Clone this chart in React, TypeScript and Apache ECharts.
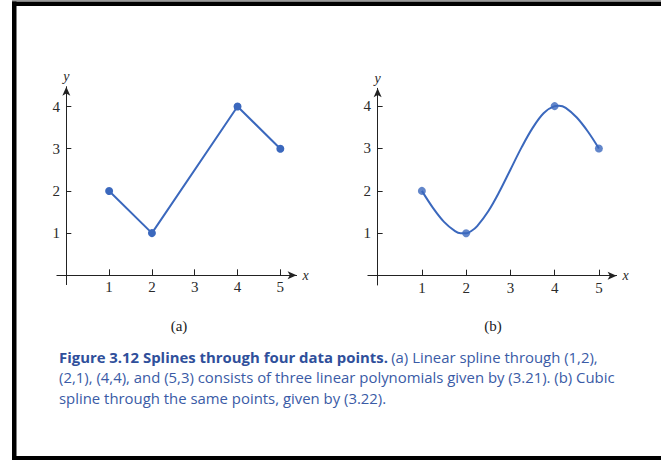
import React, { useEffect, useRef } from "react";
import * as echarts from "echarts";

// Knots shared by both panels
const knotX = [1, 2, 4, 5];
const knotY = [2, 1, 4, 3];

// Cubic spline curve in panel (b), sampled along x
const curveX = [1, 1.25, 1.5, 1.75, 1.875, 2, 2.125, 2.25, 2.5, 2.75, 3, 3.25, 3.5, 3.75, 4, 4.1, 4.25, 4.5, 4.75, 5];
const curveY = [2, 1.6, 1.27, 1.05, 1.0, 1, 1.06, 1.17, 1.52, 1.98, 2.5, 3.02, 3.48, 3.83, 4, 4.01, 3.96, 3.73, 3.4, 3];

// Tick labels
const xTicks = [1, 2, 3, 4, 5];
const yTicks = [1, 2, 3, 4];

const panelLabels = ["(a)", "(b)"];
const captionBold = "Figure 3.12 Splines through four data points.";
const captionLines = [
  "(a) Linear spline through (1,2),",
  "(2,1), (4,4), and (5,3) consists of three linear polynomials given by (3.21). (b) Cubic",
  "spline through the same points, given by (3.22).",
];

const SERIF = "Liberation Serif";
const SANS = "Open Sans";
const AXIS_COLOR = "#222";
const BLUE = "#3b68bd";
const CAPTION_BLUE = "#3a5ba6";

function xAxisFor(i: number, max: number) {
  return {
    type: "value",
    gridIndex: i,
    min: -0.22,
    max,
    splitLine: { show: false },
    axisLine: {
      onZero: true,
      symbol: ["none", "arrow"],
      symbolSize: [6, 9],
      lineStyle: { color: AXIS_COLOR, width: 1 },
    },
    axisTick: { inside: true, length: 6, customValues: xTicks, lineStyle: { color: AXIS_COLOR } },
    axisLabel: {
      customValues: xTicks,
      fontFamily: SERIF,
      fontSize: 15,
      color: "#2a2a2a",
      margin: -5,
    },
    name: "x",
    nameLocation: "end",
    nameGap: 6,
    nameTextStyle: { fontFamily: SERIF, fontStyle: "italic", fontSize: 14, color: "#2a2a2a" },
  };
}

function yAxisFor(i: number, max: number) {
  return {
    type: "value",
    gridIndex: i,
    min: -0.22,
    max,
    splitLine: { show: false },
    axisLine: {
      onZero: true,
      symbol: ["none", "arrow"],
      symbolSize: [6, 9],
      lineStyle: { color: AXIS_COLOR, width: 1 },
    },
    axisTick: { inside: true, length: 5, customValues: yTicks, lineStyle: { color: AXIS_COLOR } },
    axisLabel: {
      customValues: yTicks,
      fontFamily: SERIF,
      fontSize: 15,
      color: "#2a2a2a",
      margin: -3,
    },
    name: "y",
    nameLocation: "end",
    nameGap: 3,
    nameTextStyle: { fontFamily: SERIF, fontStyle: "italic", fontSize: 14, color: "#2a2a2a" },
  };
}

export default function App() {
  const ref = useRef<HTMLDivElement>(null);

  useEffect(() => {
    if (!ref.current) return;
    const chart = echarts.init(ref.current, null, { renderer: "svg" });
    const knots = knotX.map((x, i) => [x, knotY[i]]);
    const curve = curveX.map((x, i) => [x, curveY[i]]);

    chart.setOption({
      animation: false,
      backgroundColor: "#ffffff",
      grid: [
        { left: 56.9, top: 86.7, width: 239.7, height: 197.9 },
        { left: 367.9, top: 88.3, width: 248.7, height: 196.7 },
      ],
      xAxis: [xAxisFor(0, 5.38), xAxisFor(1, 5.4)],
      yAxis: [yAxisFor(0, 4.47), yAxisFor(1, 4.42)],
      series: [
        {
          type: "line",
          xAxisIndex: 0,
          yAxisIndex: 0,
          data: knots,
          symbol: "circle",
          symbolSize: 8,
          itemStyle: { color: BLUE },
          lineStyle: { color: BLUE, width: 2 },
        },
        {
          type: "line",
          xAxisIndex: 1,
          yAxisIndex: 1,
          data: curve,
          smooth: 0.35,
          showSymbol: false,
          symbol: "none",
          lineStyle: { color: BLUE, width: 2 },
        },
        {
          type: "scatter",
          xAxisIndex: 1,
          yAxisIndex: 1,
          data: knots,
          symbol: "circle",
          symbolSize: 8,
          itemStyle: { color: BLUE },
          z: 3,
        },
      ],
      graphic: [
        // page frame
        { type: "rect", shape: { x: 12, y: 0, width: 660, height: 1 }, style: { fill: "#9a9a9a" } },
        { type: "rect", shape: { x: 12, y: 1.5, width: 660, height: 4.5 }, style: { fill: "#000" } },
        { type: "rect", shape: { x: 12, y: 1.5, width: 4.5, height: 460 }, style: { fill: "#000" } },
        { type: "rect", shape: { x: 12, y: 456, width: 660, height: 5 }, style: { fill: "#000" } },
        {
          type: "text",
          x: 179,
          y: 326,
          style: {
            text: panelLabels[0],
            font: `15px "${SERIF}"`,
            fill: "#222",
            textAlign: "center",
            textVerticalAlign: "middle",
          },
        },
        {
          type: "text",
          x: 493,
          y: 326,
          style: {
            text: panelLabels[1],
            font: `15px "${SERIF}"`,
            fill: "#222",
            textAlign: "center",
            textVerticalAlign: "middle",
          },
        },
        {
          type: "text",
          left: 59,
          top: 349,
          style: {
            text:
              `{b|${captionBold}} {r|${captionLines[0]}}\n` +
              `{r|${captionLines[1]}}\n` +
              `{r|${captionLines[2]}}`,
            rich: {
              b: {
                fontFamily: SANS,
                fontWeight: "bold",
                fontSize: 14.9,
                lineHeight: 20.5,
                fill: "#2f4f9b",
              },
              r: {
                fontFamily: SANS,
                fontSize: 14.9,
                lineHeight: 20.5,
                fill: CAPTION_BLUE,
              },
            },
          },
        },
      ],
    });

    return () => chart.dispose();
  }, []);

  return (
    <div
      ref={ref}
      style={{ position: "absolute", left: 0, top: 0, width: 661, height: 460 }}
    />
  );
}
